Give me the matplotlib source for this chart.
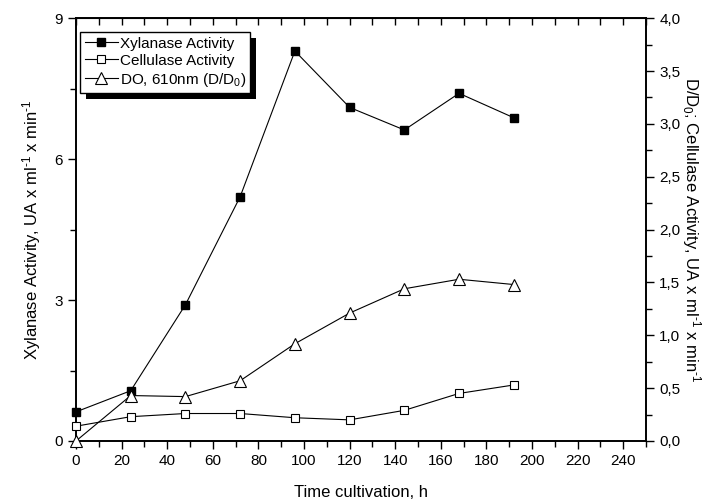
import numpy as np
import matplotlib
matplotlib.use('Agg')
import matplotlib.pyplot as plt
from matplotlib.patches import Rectangle
from matplotlib.ticker import MultipleLocator, FuncFormatter

plt.rcParams['font.family'] = ['Liberation Sans', 'DejaVu Sans']
plt.rcParams['mathtext.fontset'] = 'custom'
plt.rcParams['mathtext.rm'] = 'Liberation Sans'
plt.rcParams['mathtext.it'] = 'Liberation Sans:italic'

# time of cultivation, h
hours = [0, 24, 48, 72, 96, 120, 144, 168, 192]
# left axis
xylanase = [0.62, 1.07, 2.9, 5.2, 8.3, 7.1, 6.62, 7.4, 6.88]
# right axis
cellulase = [0.14, 0.23, 0.26, 0.26, 0.22, 0.20, 0.29, 0.45, 0.53]
do_610 = [0.0, 0.43, 0.42, 0.57, 0.92, 1.21, 1.44, 1.53, 1.48]

fig = plt.figure(figsize=(7.19, 5.04), dpi=100)
ax = fig.add_axes([0.1057, 0.125, 0.7928, 0.839])
ax2 = ax.twinx()

l1, = ax.plot(hours, xylanase, '-', color='k', lw=0.8, marker='s', ms=6,
              mfc='k', mec='k', clip_on=False, zorder=3,
              label='Xylanase Activity')
l2, = ax2.plot(hours, cellulase, '-', color='k', lw=0.8, marker='s', ms=6,
               mfc='white', mec='k', mew=0.8, clip_on=False, zorder=3,
               label='Cellulase Activity')
l3, = ax2.plot(hours, do_610, '-', color='k', lw=0.8, marker='^', ms=8,
               mfc='white', mec='k', mew=0.8, clip_on=False, zorder=3,
               label='DO, 610nm (D/D$_0$)')

ax.set_xlim(0, 250)
ax.set_ylim(0, 9)
ax2.set_ylim(0, 4)

ax.xaxis.set_major_locator(MultipleLocator(20))
ax.xaxis.set_minor_locator(MultipleLocator(10))
ax.xaxis.set_major_formatter(FuncFormatter(lambda v, p: '' if v > 240 else '%d' % v))
ax.yaxis.set_major_locator(MultipleLocator(3))
ax.yaxis.set_minor_locator(MultipleLocator(1.5))
ax2.yaxis.set_major_locator(MultipleLocator(0.5))
ax2.yaxis.set_minor_locator(MultipleLocator(0.25))
ax2.yaxis.set_major_formatter(FuncFormatter(lambda v, p: ('%.1f' % v).replace('.', ',')))

ax.tick_params(axis='both', which='major', direction='out', length=6, width=1,
               labelsize=11, top=False)
ax.tick_params(axis='both', which='minor', direction='out', length=4, width=1,
               top=False)
ax2.tick_params(axis='y', which='major', direction='out', length=6, width=1, labelsize=11)
ax2.tick_params(axis='y', which='minor', direction='out', length=4, width=1)

# top axis: inward ticks only
top = ax.secondary_xaxis('top')
top.xaxis.set_major_locator(MultipleLocator(10))
top.tick_params(direction='in', length=5, width=1, labelsize=0)
top.set_xticklabels([])

for a in (ax, ax2):
    for s in a.spines.values():
        s.set_linewidth(1.2)

ax.set_xlabel('Time cultivation, h', fontsize=12, labelpad=12)
ax.set_ylabel(r'Xylanase Activity, UA x ml$^{\text{-1}}$ x min$^{\text{-1}}$',
              fontsize=12, labelpad=8)
ax2.set_ylabel(r'D/D$_0$; Cellulase Activity, UA x ml$^{\text{-1}}$ x min$^{\text{-1}}$',
               fontsize=12, rotation=270, labelpad=16)

leg = ax2.legend(handles=[l1, l2, l3], loc='upper left', bbox_to_anchor=(0.007, 0.967),
                 borderaxespad=0, fancybox=False, framealpha=1, edgecolor='k',
                 fontsize=11, handlelength=2.2, handletextpad=0.1,
                 borderpad=0.3, labelspacing=0.2)
leg.get_frame().set_linewidth(1)
leg.set_zorder(10)

# black drop shadow behind the legend box
fig.canvas.draw()
bb = leg.get_window_extent().transformed(fig.transFigure.inverted())
dx, dy = 6 / 719, 6 / 504
ax2.add_artist(Rectangle((bb.x0 + dx, bb.y0 - dy), bb.width, bb.height,
                         transform=fig.transFigure, facecolor='k',
                         edgecolor='none', zorder=9, clip_on=False))
ax2.set_zorder(ax.get_zorder() + 1)

fig.savefig('out.png', dpi=100)
